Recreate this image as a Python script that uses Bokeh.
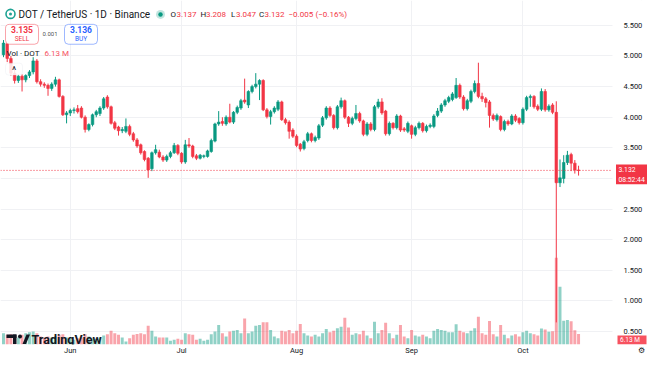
import pandas as pd
from bokeh.plotting import figure
from bokeh.models import (Range1d, FixedTicker, Label, BoxAnnotation, ColumnDataSource)
from bokeh.core.properties import value
from bokeh.embed import file_html
from bokeh.resources import INLINE

# ---------------- data (daily DOT/USDT) ----------------
dates = pd.date_range("2025-05-14", "2025-10-16", freq="D")

opens = [5.02, 5.20, 4.96, 4.72, 4.60, 4.67, 4.61, 4.68, 4.74, 4.92,
         4.58, 4.54, 4.52, 4.47, 4.54, 4.61, 4.34, 4.04, 4.07, 4.11,
         4.14, 4.15, 4.00, 3.80, 3.88, 4.04, 4.06, 4.15, 4.33, 4.17,
         3.91, 3.84, 3.78, 3.77, 3.85, 3.73, 3.63, 3.55, 3.44, 3.33,
         3.16, 3.42, 3.43, 3.35, 3.30, 3.36, 3.42, 3.54, 3.41, 3.27,
         3.55, 3.53, 3.37, 3.33, 3.36, 3.36, 3.44, 3.61, 3.89, 3.93,
         3.89, 4.00, 3.92, 4.08, 4.15, 4.28, 4.20, 4.42, 4.50, 4.54,
         4.60, 4.12, 4.01, 4.09, 4.13, 4.25, 3.96, 3.92, 3.79, 3.69,
         3.56, 3.49, 3.62, 3.73, 3.62, 3.66, 3.87, 3.99, 4.15, 4.03,
         3.83, 4.17, 4.27, 4.00, 3.90, 3.98, 4.06, 3.94, 3.72, 3.89,
         3.80, 4.17, 4.25, 4.10, 3.73, 3.90, 3.83, 4.02, 3.81, 3.77,
         3.86, 3.72, 3.83, 3.90, 3.78, 3.85, 3.85, 4.03, 4.10, 4.20,
         4.26, 4.29, 4.32, 4.52, 4.33, 4.14, 4.26, 4.42, 4.55, 4.34,
         4.30, 4.25, 4.03, 3.96, 4.01, 3.80, 3.93, 3.89, 4.02, 3.98,
         3.91, 4.13, 4.32, 4.34, 4.18, 4.13, 4.42, 4.12, 4.20, 4.08,
         2.93, 3.00, 3.26, 3.39, 3.25, 3.137]

highs = [5.26, 5.22, 5.00, 4.78, 4.70, 4.70, 4.70, 4.77, 4.98, 4.95,
         4.62, 4.57, 4.55, 4.57, 4.66, 4.63, 4.36, 4.10, 4.14, 4.16,
         4.20, 4.18, 4.03, 3.90, 4.06, 4.12, 4.18, 4.33, 4.36, 4.19,
         3.94, 3.86, 3.84, 3.98, 3.88, 3.76, 3.66, 3.57, 3.46, 3.35,
         3.44, 3.55, 3.47, 3.38, 3.39, 3.45, 3.58, 3.56, 3.43, 3.63,
         3.66, 3.55, 3.40, 3.40, 3.39, 3.47, 3.65, 3.91, 4.10, 4.00,
         4.03, 4.22, 4.10, 4.19, 4.30, 4.63, 4.44, 4.53, 4.72, 4.62,
         4.62, 4.15, 4.12, 4.18, 4.28, 4.27, 3.99, 3.95, 3.82, 3.72,
         3.58, 3.63, 3.76, 3.75, 3.70, 3.89, 4.02, 4.18, 4.18, 4.05,
         4.20, 4.32, 4.29, 4.02, 4.01, 4.20, 4.09, 3.96, 3.92, 3.92,
         4.20, 4.30, 4.31, 4.12, 3.93, 3.92, 4.05, 4.04, 3.84, 3.93,
         3.88, 3.86, 3.93, 3.92, 3.88, 3.90, 4.05, 4.15, 4.23, 4.30,
         4.35, 4.41, 4.64, 4.55, 4.36, 4.30, 4.45, 4.60, 4.89, 4.40,
         4.33, 4.28, 4.06, 4.06, 4.03, 3.96, 3.96, 4.05, 4.05, 4.00,
         4.16, 4.35, 4.37, 4.36, 4.21, 4.47, 4.46, 4.21, 4.23, 4.26,
         3.31, 3.38, 3.45, 3.42, 3.30, 3.208]

lows = [4.98, 4.90, 4.68, 4.55, 4.56, 4.42, 4.57, 4.64, 4.70, 4.55,
        4.50, 4.48, 4.35, 4.43, 4.50, 4.32, 4.02, 3.90, 4.02, 4.06,
        4.06, 3.98, 3.75, 3.77, 3.85, 4.00, 4.02, 4.12, 4.14, 3.88,
        3.79, 3.70, 3.74, 3.74, 3.69, 3.60, 3.50, 3.39, 3.28, 3.01,
        3.12, 3.39, 3.33, 3.27, 3.27, 3.33, 3.40, 3.38, 3.24, 3.24,
        3.50, 3.33, 3.30, 3.31, 3.33, 3.34, 3.42, 3.59, 3.86, 3.86,
        3.86, 3.90, 3.89, 4.05, 4.12, 4.22, 4.15, 4.39, 4.47, 4.28,
        4.10, 3.98, 3.88, 4.06, 4.10, 3.94, 3.88, 3.65, 3.66, 3.51,
        3.44, 3.46, 3.59, 3.59, 3.59, 3.63, 3.84, 3.96, 4.00, 3.80,
        3.80, 4.14, 3.97, 3.84, 3.87, 3.95, 3.91, 3.69, 3.69, 3.77,
        3.77, 4.14, 4.04, 3.70, 3.70, 3.80, 3.80, 3.76, 3.76, 3.74,
        3.65, 3.69, 3.80, 3.75, 3.75, 3.82, 3.82, 4.00, 4.07, 4.17,
        4.23, 4.26, 4.30, 4.30, 4.11, 4.11, 4.23, 4.39, 4.31, 4.25,
        4.16, 3.83, 3.94, 3.93, 3.77, 3.77, 3.86, 3.87, 3.92, 3.88,
        3.88, 4.10, 4.17, 4.14, 4.10, 4.10, 4.09, 4.09, 4.05, 0.65,
        2.86, 2.92, 3.22, 3.12, 3.08, 3.047]

closes = [5.21, 4.96, 4.72, 4.60, 4.67, 4.61, 4.68, 4.74, 4.92, 4.58,
          4.54, 4.52, 4.47, 4.54, 4.61, 4.34, 4.04, 4.07, 4.11, 4.12,
          4.09, 4.00, 3.80, 3.88, 4.04, 4.09, 4.15, 4.30, 4.17, 3.90,
          3.82, 3.78, 3.80, 3.85, 3.72, 3.63, 3.53, 3.42, 3.31, 3.14,
          3.42, 3.47, 3.35, 3.30, 3.36, 3.42, 3.54, 3.41, 3.27, 3.55,
          3.53, 3.36, 3.33, 3.38, 3.37, 3.45, 3.62, 3.89, 3.92, 3.90,
          4.00, 3.92, 4.08, 4.16, 4.27, 4.25, 4.42, 4.50, 4.54, 4.60,
          4.12, 4.01, 4.09, 4.15, 4.25, 3.96, 3.91, 3.77, 3.69, 3.54,
          3.48, 3.60, 3.73, 3.62, 3.67, 3.86, 3.99, 4.15, 4.03, 3.83,
          4.17, 4.27, 4.00, 3.90, 3.98, 4.06, 3.94, 3.72, 3.89, 3.80,
          4.17, 4.25, 4.07, 3.73, 3.90, 3.83, 4.02, 3.79, 3.79, 3.90,
          3.72, 3.83, 3.90, 3.78, 3.85, 3.87, 4.02, 4.10, 4.20, 4.27,
          4.32, 4.38, 4.52, 4.33, 4.14, 4.27, 4.42, 4.55, 4.34, 4.30,
          4.24, 4.03, 3.97, 4.03, 3.80, 3.93, 3.89, 4.02, 3.95, 3.91,
          4.13, 4.32, 4.34, 4.17, 4.13, 4.42, 4.12, 4.18, 4.08, 2.93,
          3.01, 3.26, 3.38, 3.25, 3.137, 3.132]

# volume in millions of DOT
volumes = [6.5, 5.6, 5.9, 4.6, 4.0, 5.6, 6.5, 7.1, 7.5, 6.5,
           4.6, 4.0, 4.6, 4.0, 4.6, 5.6, 5.9, 4.0, 3.3, 2.7,
           3.6, 4.0, 5.9, 4.6, 3.6, 3.3, 4.0, 5.2, 5.9, 7.9,
           6.5, 5.6, 4.0, 1.7, 3.6, 5.6, 6.1, 6.5, 5.9, 10.9,
           7.9, 4.6, 4.0, 4.0, 4.0, 2.1, 2.7, 3.3, 2.7, 6.5,
           5.9, 5.6, 2.7, 3.3, 2.1, 2.7, 5.9, 7.5, 11.3, 6.5,
           4.6, 7.5, 7.9, 8.4, 6.5, 15.1, 6.5, 7.5, 10.9, 11.3,
           12.8, 12.8, 8.4, 4.6, 3.6, 7.9, 7.5, 8.4, 6.5, 7.9,
           11.9, 6.5, 5.2, 4.6, 5.6, 4.6, 6.5, 9.0, 7.1, 7.9,
           9.4, 10.3, 15.5, 9.8, 5.6, 6.5, 5.9, 7.9, 5.2, 3.6,
           13.2, 6.5, 8.4, 12.6, 6.5, 3.6, 5.6, 11.3, 4.6, 3.6,
           8.4, 5.2, 4.6, 5.6, 4.6, 3.6, 7.9, 9.0, 8.4, 7.9,
           7.1, 7.1, 11.7, 7.9, 7.1, 6.5, 7.9, 9.4, 16.1, 6.5,
           5.6, 13.6, 5.9, 4.6, 11.3, 5.6, 3.6, 5.2, 5.9, 4.6,
           7.1, 7.9, 6.5, 5.9, 5.2, 9.2, 8.6, 7.3, 7.7, 50.2,
           33.4, 13.8, 14.2, 13.4, 8.2, 6.13]

month_labels = ["Jun", "Jul", "Aug", "Sep", "Oct"]
price_ticks = [0.5, 1.0, 1.5, 2.0, 2.5, 3.0, 3.5, 4.0, 4.5, 5.0, 5.5]
sell_price = 3.135
buy_price = 3.136
countdown = "08:52:44"
symbol_title = "DOT / TetherUS · 1D · Binance"

# ---------------- layout (pixel geometry of the picture) ----------------
W, H = 647, 357
BOTTOM_H = 11
FRAME_H = H - BOTTOM_H
SCALE_X = 612          # left edge of the price-scale column
PX_DAY = 3.71          # pixels per candle
PX_UNIT = 61.6         # pixels per 1 USDT
X_START = -3 / PX_DAY  # first candle centre sits 3 px from the left edge
Y_TOP = 5.5 + 25 / PX_UNIT
Y_BOT = Y_TOP - FRAME_H / PX_UNIT
PX_VOL = 1.74          # pixels per million

def X(px):   # canvas pixel -> x data
    return X_START + px / PX_DAY

def Y(py):   # canvas pixel -> price data
    return Y_TOP - py / PX_UNIT

UP, DOWN = "#089981", "#F23645"
DARK = "#131722"
FONT = "Roboto"

idx = list(range(len(dates)))
colors = [UP if c >= o else DOWN for o, c in zip(opens, closes)]
src = ColumnDataSource(dict(
    x=idx, open=opens, high=highs, low=lows, close=closes,
    top=[max(o, c) for o, c in zip(opens, closes)],
    bottom=[min(o, c) for o, c in zip(opens, closes)],
    color=colors, vol=volumes))

p = figure(width=W, height=H,
           x_range=Range1d(X_START, X(W)),
           y_range=Range1d(Y_BOT, Y_TOP),
           y_axis_location="right",
           output_backend="svg", toolbar_location=None,
           min_border_left=0, min_border_top=0,
           min_border_right=0, min_border_bottom=BOTTOM_H,
           background_fill_color="white", border_fill_color="white",
           outline_line_color=None)
p.extra_y_ranges = {"vol": Range1d(0, FRAME_H / PX_VOL)}

# time axis (month starts) + the settings glyph of the time scale
month_idx = [i for i, d in enumerate(dates) if d.day == 1]
gear_tick = round(X(640))
p.xaxis.ticker = FixedTicker(ticks=month_idx + [gear_tick])
overrides = {i: lab for i, lab in zip(month_idx, month_labels)}
overrides[gear_tick] = "⚙"
p.xaxis.major_label_overrides = overrides
ax = p.xaxis[0]
ax.axis_line_color = None
ax.major_tick_line_color = None
ax.minor_tick_line_color = None
ax.major_tick_out = 0
ax.major_tick_in = 0
ax.minor_tick_out = 0
ax.minor_tick_in = 0
ax.axis_label_standoff = 0
ax.major_label_standoff = 1
ax.major_label_text_font = FONT
ax.major_label_text_font_size = "7.5px"
ax.major_label_text_color = DARK

# price axis: ticks drive the horizontal grid; labels are drawn in the price-scale column
p.yaxis.ticker = FixedTicker(ticks=price_ticks)
p.yaxis.visible = False
p.xgrid.grid_line_color = "#f0f1f4"
p.ygrid.grid_line_color = "#f0f1f4"

# volume
p.vbar(x="x", width=0.8, top="vol", bottom=0, fill_color="color", fill_alpha=0.45,
       line_color=None, y_range_name="vol", source=src)
# candles
p.segment(x0="x", y0="low", x1="x", y1="high", line_color="color", line_width=1, source=src)
p.vbar(x="x", width=0.7, top="top", bottom="bottom", fill_color="color",
       line_color="color", line_width=0.6, source=src)

# price-scale column background (keeps the grid out of the scale)
p.quad(left=[X(SCALE_X)], right=[X(W + 5)], bottom=[Y_BOT], top=[Y_TOP],
       fill_color="white", line_color=None)

# last price line
last_price = closes[-1]
p.segment(x0=[X(0)], x1=[X(SCALE_X)], y0=[last_price], y1=[last_price],
          line_color=DOWN, line_dash="1 2", line_width=1)

# price-scale labels (the one hidden by the last-price marker is omitted)
shown = [t for t in price_ticks if abs(t - last_price) > 0.2]
p.text(x=[X(623)] * len(shown), y=shown, text=[f"{t:.3f}" for t in shown],
       text_font=value(FONT), text_font_size="7.5px", text_color=DARK,
       text_baseline="middle", text_align="left")

# last-price marker
p.quad(left=[X(615.5)], right=[X(W + 5)], top=[last_price + 6 / PX_UNIT],
       bottom=[last_price - 14 / PX_UNIT], fill_color=DOWN, line_color=None)
p.text(x=[X(618), X(618)], y=[last_price + 0.5 / PX_UNIT, last_price - 9.5 / PX_UNIT],
       text=[f"{last_price:.3f}", countdown], text_font=value(FONT), text_font_size="6.8px",
       text_color="white", text_baseline="middle", text_align="left")

# last-volume marker
vol_label = f"{volumes[-1]:.2f} M"
p.quad(left=[X(617)], right=[X(W - 1)], top=[Y(337)], bottom=[Y(FRAME_H)],
       fill_color="#f7525f", line_color=None)
p.text(x=[X(619.5)], y=[Y(341.5)], text=[vol_label], text_font=value(FONT),
       text_font_size="6.5px", text_color="white", text_baseline="middle", text_align="left")

# ---------------- header ----------------
p.scatter([X(10)], [Y(13.5)], marker="circle", size=9, fill_color=None,
          line_color="#1fa394", line_width=1.6)
p.scatter([X(10)], [Y(13.5)], marker="circle", size=3, fill_color="#1fa394", line_color=None)
p.text(x=[X(18)], y=[Y(14.5)], text=[symbol_title], text_font=value(FONT),
       text_font_size="10px", text_color=DARK, text_baseline="middle", text_align="left")
p.scatter([X(160)], [Y(14)], marker="circle", size=9, fill_color=UP, fill_alpha=0.25, line_color=None)
p.scatter([X(160)], [Y(14)], marker="circle", size=4.5, fill_color=UP, line_color=None)

chg = closes[-1] - closes[-2]
pct = chg / closes[-2] * 100
fmt = lambda v, s: (s.format(v)).replace("-", "−")
ohlc_text = ["O", f"{opens[-1]:.3f}", "H", f"{highs[-1]:.3f}", "L", f"{lows[-1]:.3f}",
             "C", f"{closes[-1]:.3f}", fmt(chg, "{:+.3f}"),
             "(" + fmt(pct, "{:+.2f}") + "%)"]
ohlc_px = [170, 176, 200, 205.5, 230.5, 235.5, 258.5, 264, 288, 315]
ohlc_col = [DARK, DOWN, DARK, DOWN, DARK, DOWN, DARK, DOWN, DOWN, DOWN]
p.text(x=[X(v) for v in ohlc_px], y=[Y(14.5)] * len(ohlc_px), text=ohlc_text,
       text_color=ohlc_col, text_font=value(FONT), text_font_size="8px",
       text_baseline="middle", text_align="left")

# sell / buy boxes (annotations; their texts are labels added afterwards so they sit on top)
p.add_layout(BoxAnnotation(left=X(5), right=X(38), top=Y(24), bottom=Y(44),
                           fill_color="white", fill_alpha=1, line_color=DOWN,
                           line_alpha=0.45, line_width=1, border_radius=4))
p.add_layout(BoxAnnotation(left=X(64), right=X(97), top=Y(24), bottom=Y(44),
                           fill_color="white", fill_alpha=1, line_color="#2962FF",
                           line_alpha=0.45, line_width=1, border_radius=4))
p.add_layout(BoxAnnotation(left=X(5), right=X(22), top=Y(63), bottom=Y(75),
                           fill_color="white", fill_alpha=0.85, line_color="#e0e3eb",
                           line_width=1, border_radius=3))

def lab(px, py, text, color, size, style="normal", align="center", alpha=1.0):
    p.add_layout(Label(x=X(px), y=Y(py), text=text, text_color=color, text_alpha=alpha,
                       text_font=FONT, text_font_size=size, text_font_style=style,
                       text_baseline="middle", text_align=align))

lab(21.5, 29.5, f"{sell_price:.3f}", DOWN, "8.5px", "bold")
lab(80.5, 29.5, f"{buy_price:.3f}", "#2962FF", "8.5px", "bold")
lab(21.5, 38.5, "SELL", DOWN, "6.5px")
lab(80.5, 38.5, "BUY", "#2962FF", "6.5px")
lab(49.5, 34, f"{buy_price - sell_price:.3f}", DARK, "6px", alpha=0.8)
lab(13.5, 70, "^", DARK, "10px")

# volume legend
p.text(x=[X(6), X(44)], y=[Y(53), Y(53)], text=["Vol · DOT", vol_label],
       text_color=[DARK, "#f7525f"], text_font=value(FONT),
       text_font_size="8px", text_baseline="middle", text_align="left")

# TradingView watermark
p.quad(left=[X(6)], right=[X(16)], top=[Y(336)], bottom=[Y(339.5)], fill_color=DARK, line_color=None)
p.quad(left=[X(12.5)], right=[X(16)], top=[Y(336)], bottom=[Y(345.5)], fill_color=DARK, line_color=None)
p.scatter([X(19.5)], [Y(338)], marker="circle", size=4, fill_color=DARK, line_color=None)
p.patch([X(22), X(26), X(29.5), X(25.5)], [Y(345.5), Y(336), Y(336), Y(345.5)],
        fill_color=DARK, line_color=None)
p.text(x=[X(31)], y=[Y(341)], text=["TradingView"], text_color=DARK, text_font=value(FONT),
       text_font_size="12.5px", text_font_style="bold", text_baseline="middle", text_align="left")

open("out.html", "w").write(file_html(p, INLINE))
